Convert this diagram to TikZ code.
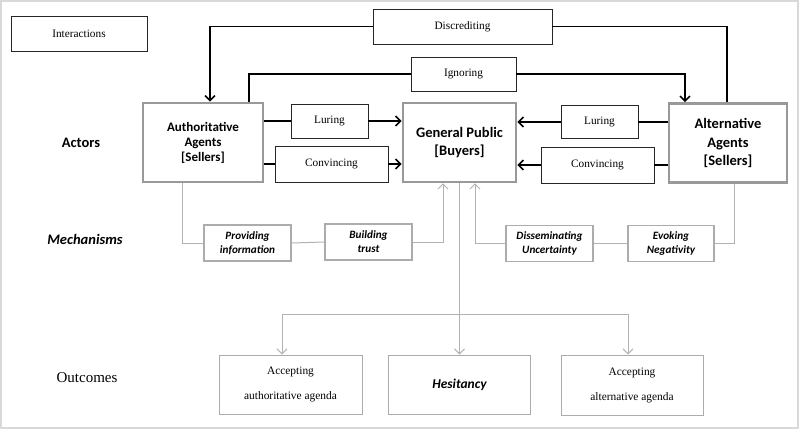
\documentclass[tikz,border=0pt]{standalone}
\usepackage{fontspec}
\setmainfont{Liberation Serif}
\newfontfamily\carlito{Carlito}
\usetikzlibrary{arrows.meta}

\tikzset{
  interbox/.style={draw=black!85, line width=0.9pt, inner sep=0pt,
    font=\fontsize{11.3}{13}\selectfont},
  actorbox/.style={draw=gray!80, line width=2.6pt, inner sep=0pt, align=center,
    minimum height=79pt, font=\carlito\bfseries\fontsize{14.5}{18.5}\selectfont},
  mechbox/.style={draw=gray!65, line width=1.2pt, inner sep=0pt, align=center,
    minimum width=87pt, minimum height=36pt,
    font=\carlito\bfseries\itshape\fontsize{11.2}{14}\selectfont},
  outbox/.style={draw=gray!65, line width=0.9pt, inner sep=0pt, align=center,
    minimum width=142pt, minimum height=59pt, font=\fontsize{11.4}{25}\selectfont},
  rowlabel/.style={font=\carlito\bfseries\fontsize{14.5}{16}\selectfont},
  inter/.style={draw=black, line width=1.6pt},
  interarrow/.style={inter, -{Straight Barb[length=5pt,width=10pt]}},
  mech/.style={draw=gray!60, line width=1pt},
  mecharrow/.style={mech, -{Straight Barb[length=5pt,width=10pt]}},
}

\begin{document}
\begin{tikzpicture}[x=1pt, y=-1pt]
  \useasboundingbox (0,0) rectangle (799,429);
  \draw[gray!30, line width=1.6pt] (1,1) rectangle (798,428);

  % row labels
  \node[rowlabel] (actors) at (81,143) {Actors};
  \node[rowlabel, font=\carlito\bfseries\itshape\fontsize{14.5}{16}\selectfont] (mechanisms) at (85,239) {Mechanisms};
  \node[font=\fontsize{15}{17}\selectfont] (outcomes) at (87,378) {Outcomes};

  % interaction boxes
  \node[interbox, minimum width=136pt, minimum height=35pt] (legend) at (79,33.5) {Interactions};
  \node[interbox, minimum width=179pt, minimum height=35pt] (discr) at (462.5,26.5) {Discrediting};
  \node[interbox, minimum width=105pt, minimum height=34pt] (ignor) at (463.5,74) {Ignoring};
  \node[interbox, minimum width=77pt, minimum height=34pt] (lurleft) at (329.5,121) {Luring};
  \node[interbox, minimum width=113pt, minimum height=36pt] (convleft) at (331.5,164) {Convincing};
  \node[interbox, minimum width=77pt, minimum height=33pt] (lurright) at (599.5,122) {Luring};
  \node[interbox, minimum width=113pt, minimum height=36pt] (convright) at (597.5,165) {Convincing};

  % actors
  \node[actorbox, minimum width=120pt, font=\carlito\bfseries\fontsize{13}{15}\selectfont] (auth) at (203,142.5) {Authoritative\\Agents\\{}[Sellers]};
  \node[actorbox, minimum width=113pt] (public) at (459.5,142.5) {General Public\\{}[Buyers]};
  \node[actorbox, minimum width=118pt] (alt) at (728,143) {Alternative\\Agents\\{}[Sellers]};

  % mechanisms
  \node[mechbox] (provid) at (247.5,243) {Providing\\information};
  \node[mechbox] (build) at (368.5,242) {Building\\trust};
  \node[mechbox] (dissem) at (549.5,243.5) {Disseminating\\Uncertainty};
  \node[mechbox, minimum width=86pt] (evoke) at (671,243.5) {Evoking\\Negativity};

  % outcomes
  \node[outbox, minimum width=143pt] (accauth) at (290.5,384.5) {Accepting\\authoritative agenda};
  \node[outbox, font=\carlito\bfseries\itshape\fontsize{13.5}{15}\selectfont] (hesit) at (459.5,384.5) {Hesitancy};
  \node[outbox, minimum height=60pt] (accalt) at (632,385) {Accepting\\alternative agenda};
  \coordinate (split) at (459.5,314);

  % interactions
  \draw[interarrow] (discr.west) -| ([xshift=7pt]auth.north);
  \draw[inter] (discr.east) -| ([xshift=-1pt]alt.north);
  \draw[inter] ([xshift=46pt]auth.north) |- (ignor.west);
  \draw[interarrow] (ignor.east) -| ([xshift=-43pt]alt.north);
  \draw[inter] (auth.east |- lurleft) -- (lurleft.west);
  \draw[interarrow] (lurleft.east) -- (public.west |- lurleft);
  \draw[inter] (auth.east |- convleft) -- (convleft.west);
  \draw[interarrow] (convleft.east) -- (public.west |- convleft);
  \draw[inter] (alt.west |- lurright) -- (lurright.east);
  \draw[interarrow] (lurright.west) -- (public.east |- lurright);
  \draw[inter] (alt.west |- convright) -- (convright.east);
  \draw[interarrow] (convright.west) -- (public.east |- convright);

  % mechanisms
  \draw[mech] ([xshift=-21pt]auth.south) |- (provid.west);
  \draw[mech] (provid.east) -- (build.west);
  \draw[mecharrow] (build.east) -| ([xshift=-16.5pt]public.south);
  \draw[mecharrow] (dissem.west) -| ([xshift=15.5pt]public.south);
  \draw[mech] (dissem.east) -- (evoke.west);
  \draw[mech] (evoke.east) -| ([xshift=6pt]alt.south);

  % outcomes
  \draw[mecharrow] (public.south) -- (hesit.north);
  \draw[mecharrow] (split) -| ([xshift=-8.5pt]accauth.north);
  \draw[mecharrow] (split) -| ([xshift=-4pt]accalt.north);
\end{tikzpicture}
\end{document}
